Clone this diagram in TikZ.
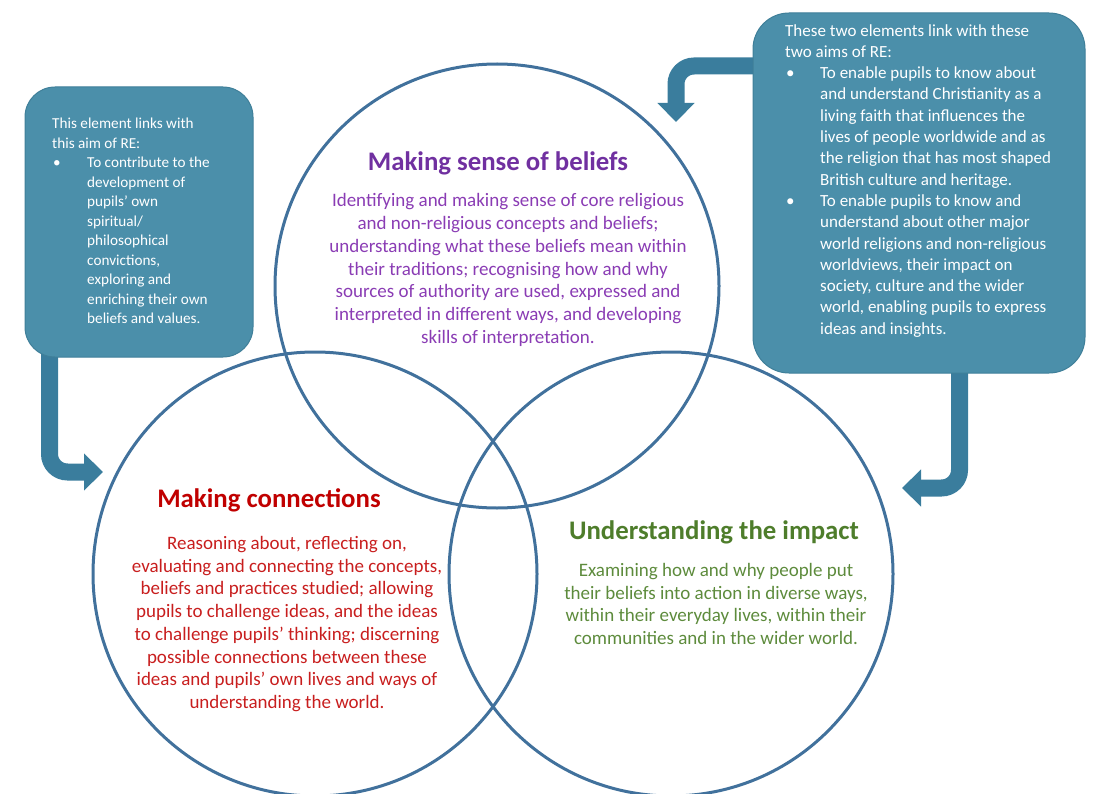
\documentclass[tikz,border=0pt]{standalone}
\usepackage{fontspec}
\setmainfont{Carlito}
\usetikzlibrary{arrows.meta,backgrounds}
\definecolor{ringc}{HTML}{41719C}
\definecolor{boxc}{HTML}{4B8FAA}
\definecolor{boxedge}{HTML}{3F7F99}
\definecolor{arrowc}{HTML}{3A7D9D}
\definecolor{purpT}{HTML}{7030A0}
\definecolor{purpB}{HTML}{8A3CB4}
\definecolor{redT}{HTML}{C00000}
\definecolor{redB}{HTML}{C81E1E}
\definecolor{grnT}{HTML}{4E7D2B}
\definecolor{grnB}{HTML}{5D8B3C}
\newcommand{\aimbul}{\makebox[35pt][l]{\hspace{1pt}\textbullet}}
\newcommand{\aimind}{\hspace*{35pt}}
\begin{document}
\begin{tikzpicture}[x=1pt,y=-1pt,
  ring/.style={circle, draw=ringc, line width=3pt, minimum size=444pt, inner sep=0pt},
  aimbox/.style={fill=boxc, draw=boxedge, line width=1pt, inner sep=0pt},
  flow/.style={draw=arrowc, line width=17pt, rounded corners=18pt, -{Triangle[width=36pt,length=19pt]}},
  aimtext/.style={text=white, align=left, inner sep=0pt, anchor=north west},
  ttl/.style={font=\fontsize{26.8}{30}\selectfont\bfseries, inner sep=0pt},
  body/.style={font=\fontsize{19}{22.7}\selectfont, align=center, inner sep=0pt},
]
\path[use as bounding box] (0,0) rectangle (1107,794);

% circles
\node[ring] (ctop) at (497,286) {};
\node[ring] (cleft) at (315,574) {};
\node[ring] (cright) at (671,574) {};

% aim boxes
\node[aimbox, minimum width=228pt, minimum height=270pt, rounded corners=30pt] (lbox) at (139,222) {};
\node[aimbox, minimum width=332pt, minimum height=360pt, rounded corners=36pt] (rbox) at (919,193) {};

\node[aimtext, font=\fontsize{15.2}{19.5}\selectfont] (ltxt) at (52,118) {This element links with\\
this aim of RE:\\
\aimbul To contribute to the\\
\aimind development of\\
\aimind pupils’ own\\
\aimind spiritual/\\
\aimind philosophical\\
\aimind convictions,\\
\aimind exploring and\\
\aimind enriching their own\\
\aimind beliefs and values.};

\node[aimtext, font=\fontsize{17}{21.3}\selectfont] (rtxt) at (785,24) {These two elements link with these\\
two aims of RE:\\
\aimbul To enable pupils to know about\\
\aimind and understand Christianity as a\\
\aimind living faith that influences the\\
\aimind lives of people worldwide and as\\
\aimind the religion that has most shaped\\
\aimind British culture and heritage.\\
\aimbul To enable pupils to know and\\
\aimind understand about other major\\
\aimind world religions and non-religious\\
\aimind worldviews, their impact on\\
\aimind society, culture and the wider\\
\aimind world, enabling pupils to express\\
\aimind ideas and insights.};

% arrows
\coordinate (ls) at ([xshift=25pt,yshift=4pt]lbox.south west);
\coordinate (tipL) at (103,472);
\coordinate (rs) at ([xshift=-126pt,yshift=4pt]rbox.south east);
\coordinate (tipR) at (902,488);
\coordinate (ts) at (762,66);
\coordinate (tipT) at (676,122);
\begin{scope}[on background layer]
\draw[flow] (ls) |- (tipL);
\draw[flow] (rs) |- (tipR);
\draw[flow] (ts) -| (tipT);
\end{scope}

% circle texts
\node[ttl, text=purpT] (t1) at (498,163) {Making sense of beliefs};
\node[body, text=purpB] (b1) at (508,270) {Identifying and making sense of core religious\\
and non-religious concepts and beliefs;\\
understanding what these beliefs mean within\\
their traditions; recognising how and why\\
sources of authority are used, expressed and\\
interpreted in different ways, and developing\\
skills of interpretation.};

\node[ttl, text=redT] (t2) at (269,500) {Making connections};
\node[body, text=redB] (b2) at (287,624) {Reasoning about, reflecting on,\\
evaluating and connecting the concepts,\\
beliefs and practices studied; allowing\\
pupils to challenge ideas, and the ideas\\
to challenge pupils’ thinking; discerning\\
possible connections between these\\
ideas and pupils’ own lives and ways of\\
understanding the world.};

\node[ttl, text=grnT] (t3) at (714,532) {Understanding the impact};
\node[body, text=grnB] (b3) at (716,604) {Examining how and why people put\\
their beliefs into action in diverse ways,\\
within their everyday lives, within their\\
communities and in the wider world.};
\end{tikzpicture}
\end{document}
